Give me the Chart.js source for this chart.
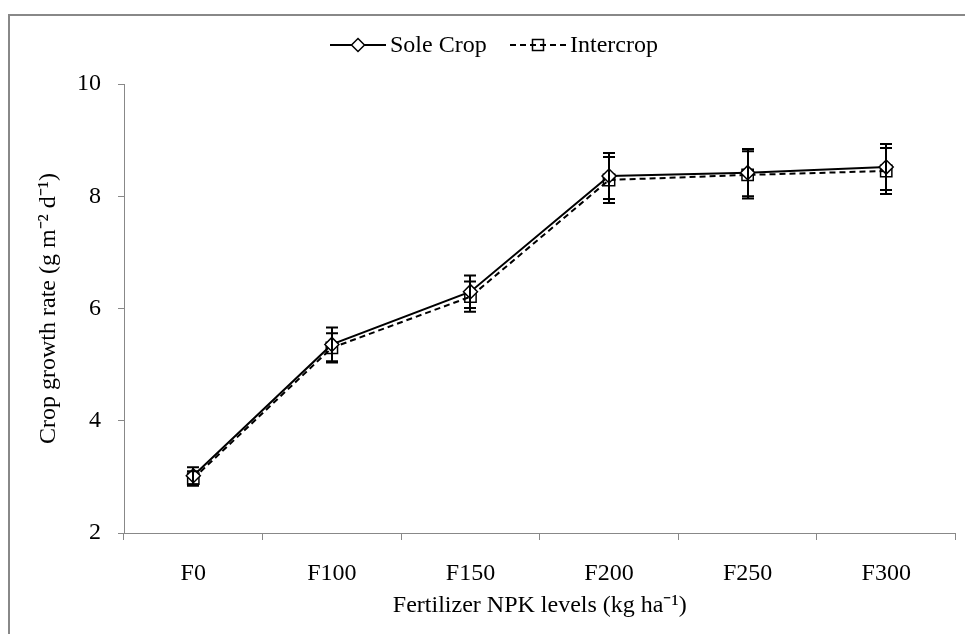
<!DOCTYPE html>
<html>
<head>
<meta charset="utf-8">
<script src="https://cdn.jsdelivr.net/npm/chart.js@4.4.0/dist/chart.umd.min.js"></script>
<style>
  html,body{margin:0;padding:0;background:#fff;}
  #wrap{position:relative;width:965px;height:634px;overflow:hidden;}
  #frame{position:absolute;left:8px;top:14px;width:1000px;height:700px;border-left:2px solid #888;border-top:2px solid #888;}
  #c{position:absolute;left:0;top:0;}
</style>
</head>
<body>
<div id="wrap">
  <div id="frame"></div>
  <canvas id="c" width="965" height="634"></canvas>
</div>
<script>
// chart data
const levels    = ['F0', 'F100', 'F150', 'F200', 'F250', 'F300'];
const soleCrop  = [3.02, 5.36, 6.30, 8.36, 8.42, 8.52];
const interCrop = [2.97, 5.30, 6.21, 8.29, 8.38, 8.45];
const soleErr   = [0.15, 0.30, 0.29, 0.41, 0.42, 0.41];
const interErr  = [0.13, 0.26, 0.27, 0.41, 0.42, 0.41];
const yTicks    = [2, 4, 6, 8, 10];

const FONT = '"Liberation Serif", "Times New Roman", serif';
const AXIS = '#888';

// vertical error bars, drawn through the scales
const errorBars = {
  id: 'errorBars',
  afterDatasetsDraw(chart){
    const {ctx, scales:{x, y}} = chart;
    ctx.save();
    ctx.strokeStyle = '#000';
    ctx.lineWidth = 2;
    chart.data.datasets.forEach(ds => {
      if(!ds.errors) return;
      ds.data.forEach((v, i) => {
        const px = Math.round(x.getPixelForValue(i));
        const top = y.getPixelForValue(v + ds.errors[i]);
        const bot = y.getPixelForValue(v - ds.errors[i]);
        ctx.beginPath();
        ctx.moveTo(px, top); ctx.lineTo(px, bot);
        ctx.moveTo(px - 6, top); ctx.lineTo(px + 6, top);
        ctx.moveTo(px - 6, bot); ctx.lineTo(px + 6, bot);
        ctx.stroke();
      });
    });
    ctx.restore();
  }
};

// legend: line + marker sample, then the label
const sketchLegend = {
  id: 'sketchLegend',
  afterDraw(chart, args, opts){
    const ctx = chart.ctx;
    ctx.save();
    ctx.font = '24px ' + FONT;
    ctx.textBaseline = 'middle';
    ctx.fillStyle = '#000';
    ctx.strokeStyle = '#000';
    chart.data.datasets.forEach((ds, i) => {
      const x0 = opts.starts[i], y0 = opts.y, w = 56;
      ctx.lineWidth = 2;
      ctx.setLineDash(ds.borderDash || []);
      ctx.beginPath(); ctx.moveTo(x0, y0); ctx.lineTo(x0 + w, y0); ctx.stroke();
      ctx.setLineDash([]);
      ctx.lineWidth = 1.5;
      const cx = x0 + w / 2;
      ctx.beginPath();
      if(ds.pointStyle === 'rectRot'){
        const r = 6.5;
        ctx.moveTo(cx, y0 - r); ctx.lineTo(cx + r, y0); ctx.lineTo(cx, y0 + r); ctx.lineTo(cx - r, y0); ctx.closePath();
        ctx.fillStyle = '#fff'; ctx.fill();
      } else {
        ctx.rect(cx - 5.5, y0 - 5.5, 11, 11);
      }
      ctx.stroke();
      ctx.fillStyle = '#000';
      ctx.fillText(ds.label, x0 + w + 4, y0 + 1);
    });
    ctx.restore();
  }
};

new Chart(document.getElementById('c'), {
  type: 'line',
  data: {
    labels: levels,
    datasets: [
      { label: 'Sole Crop', data: soleCrop, errors: soleErr,
        borderColor: '#000', borderWidth: 2, tension: 0,
        pointStyle: 'rectRot', pointRadius: 7, pointBackgroundColor: '#fff',
        pointBorderColor: '#000', pointBorderWidth: 1.5 },
      { label: 'Intercrop', data: interCrop, errors: interErr,
        borderColor: '#000', borderWidth: 2, borderDash: [6, 4], tension: 0,
        pointStyle: 'rect', pointRadius: 8, pointBackgroundColor: 'rgba(0,0,0,0)',
        pointBorderColor: '#000', pointBorderWidth: 1.5 }
    ]
  },
  options: {
    responsive: false,
    animation: false,
    layout: { padding: { top: 84, right: 6, bottom: 0, left: 0 } },
    plugins: {
      legend: { display: false },
      tooltip: { enabled: false },
      sketchLegend: { starts: [330, 510], y: 45 }
    },
    scales: {
      x: {
        type: 'category',
        offset: true,
        afterFit: s => { s.height = 101; },
        border: { color: AXIS, width: 1 },
        grid: { offset: true, drawOnChartArea: false, drawTicks: true, tickLength: 7, color: AXIS },
        ticks: { color: '#000', padding: 19, font: { family: FONT, size: 24 } },
        title: { display: true, text: 'Fertilizer NPK levels (kg ha\u207B\u00B9)', color: '#000',
                 padding: { top: 0, bottom: 14 }, font: { family: FONT, size: 24 } }
      },
      y: {
        min: 2, max: 10,
        afterFit: s => { s.width = 124; },
        afterBuildTicks: s => { s.ticks = yTicks.map(v => ({ value: v })); },
        border: { color: AXIS, width: 1 },
        grid: { drawOnChartArea: false, drawTicks: true, tickLength: 6, color: AXIS },
        ticks: { color: '#000', padding: 17, font: { family: FONT, size: 24 } },
        title: { display: true, text: 'Crop growth rate (g m\u207B\u00B2 d\u207B\u00B9)', color: '#000',
                 padding: { top: 34, bottom: 0 }, font: { family: FONT, size: 24 } }
      }
    }
  },
  plugins: [errorBars, sketchLegend]
});
</script>
</body>
</html>
